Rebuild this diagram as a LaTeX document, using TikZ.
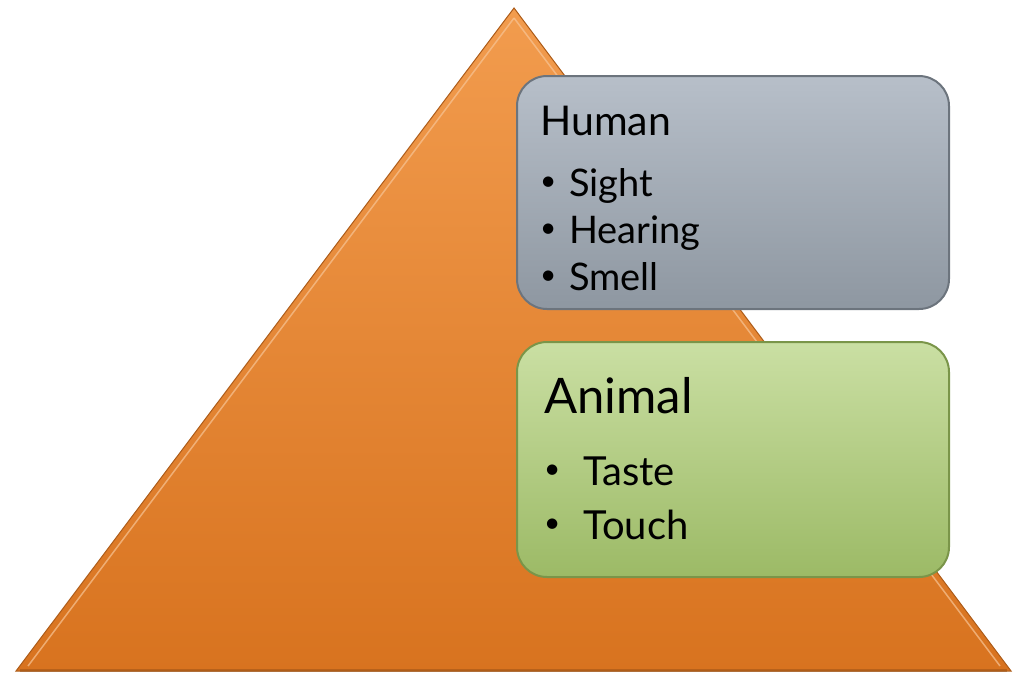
\documentclass[tikz,border=0pt]{standalone}
\usepackage{fontspec}
\setmainfont{Lato}
\usetikzlibrary{positioning}
\definecolor{pyrtop}{HTML}{F29C4E}
\definecolor{pyrbot}{HTML}{D8731F}
\definecolor{humtop}{HTML}{B7BFC9}
\definecolor{humbot}{HTML}{8E97A1}
\definecolor{humline}{HTML}{6C747D}
\definecolor{anitop}{HTML}{CADFA3}
\definecolor{anibot}{HTML}{9CBA66}
\definecolor{aniline}{HTML}{7A9549}
\tikzset{
    levelbox/.style={rounded corners=30pt, line width=2pt, minimum width=432pt,
        anchor=north west, inner sep=0pt},
    headtext/.style={anchor=base west, inner sep=0pt, font=\fontsize{40}{40}\selectfont},
    itemtext/.style={anchor=base west, inner sep=0pt, font=\fontsize{38}{38}\selectfont},
    itemdot/.style={anchor=base west, inner sep=0pt, font=\fontsize{28}{28}\selectfont}
}
\begin{document}
\begin{tikzpicture}[x=1pt, y=-1pt]
    \useasboundingbox (0,0) rectangle (1015,673);

    % Pyramid
    \shade[top color=pyrtop, bottom color=pyrbot, draw=pyrbot!80!black, line width=1pt]
        (514,8) -- (1011,671) -- (16,671) -- cycle;
    \draw[pyrtop!60!white, line width=1.5pt, opacity=0.7] (514,18) -- (1000,666);
    \draw[pyrtop!60!white, line width=1.5pt, opacity=0.7] (514,18) -- (28,666);
    \draw[pyrbot!70!black, line width=3pt, opacity=0.5] (20,670) -- (1007,670);

    % Upper level
    \node[levelbox, minimum height=233pt, draw=humline, top color=humtop, bottom color=humbot]
        (human) at (516,75) {};
    \node[headtext, font=\fontsize{41}{41}\selectfont] (humanhead) at (540,135) {Human};
    \node[itemdot] (sightdot) at (540,190) {•};
    \node[itemtext] (sight) at (569,196) {Sight};
    \node[itemdot] (hearingdot) at (540,237) {•};
    \node[itemtext] (hearing) at (569,243) {Hearing};
    \node[itemdot] (smelldot) at (540,284) {•};
    \node[itemtext] (smell) at (569,290) {Smell};

    % Lower level
    \node[levelbox, minimum height=235pt, draw=aniline, top color=anitop, bottom color=anibot]
        (animal) at (516,341) {};
    \node[headtext, font=\fontsize{49}{49}\selectfont] (animalhead) at (544,413) {Animal};
    \node[itemdot] (tastedot) at (544,478) {•};
    \node[itemtext, font=\fontsize{40}{40}\selectfont] (taste) at (583,485) {Taste};
    \node[itemdot] (touchdot) at (544,532) {•};
    \node[itemtext, font=\fontsize{40}{40}\selectfont] (touch) at (583,539) {Touch};

\end{tikzpicture}
\end{document}
